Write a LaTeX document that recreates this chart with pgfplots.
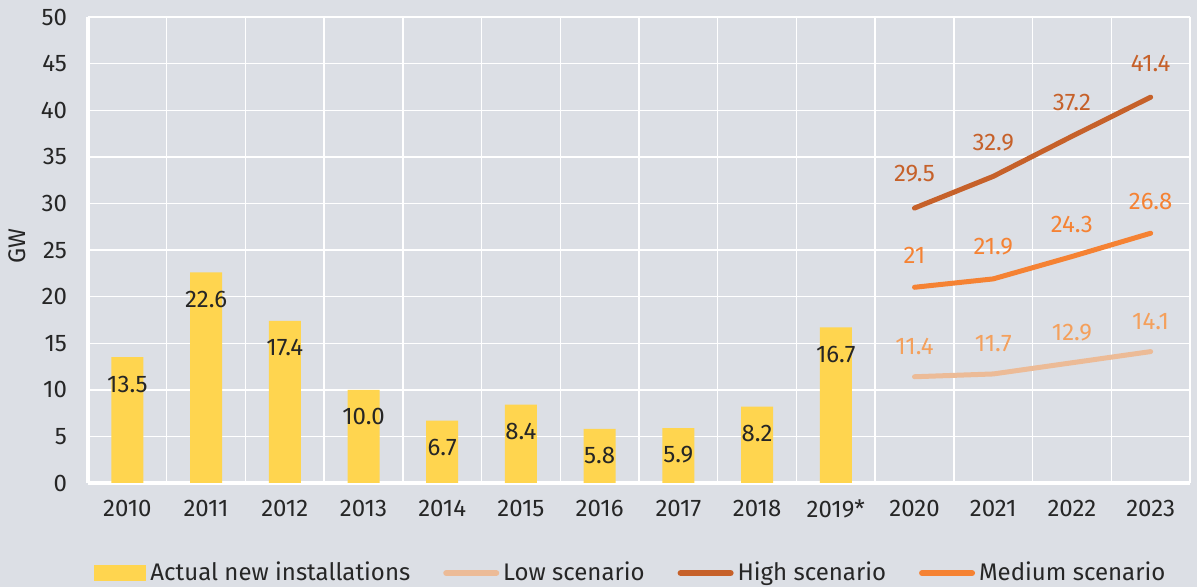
\documentclass[border=0pt]{standalone}
\usepackage{fontspec}
\setmainfont{Fira Sans}
\usepackage{pgfplots}
\pgfplotsset{compat=1.18}
\definecolor{bg}{HTML}{DCDFE5}
\definecolor{bar}{HTML}{FFD54F}
\definecolor{high}{HTML}{C6612A}
\definecolor{med}{HTML}{F58233}
\definecolor{low}{HTML}{ECBB97}
\definecolor{lowtxt}{HTML}{F4A05C}
\definecolor{txt}{HTML}{262626}
\newcommand\f{\fontsize{12}{14.4}\selectfont}
\pgfkeys{/pgf/number format/assume math mode=true}

\begin{document}
\begin{tikzpicture}
\fill[bg] (-44pt,-52pt) rectangle (554.5pt,241.5pt);
\begin{axis}[name=ax, scale only axis, width=551pt, height=233pt,
  xmin=-0.5, xmax=13.5, ymin=0, ymax=50,
  xtick={0,...,13},
  xticklabels={2010,2011,2012,2013,2014,2015,2016,2017,2018,2019*,2020,2021,2022,2023},
  minor xtick={-0.5,0.5,...,13.5},
  ytick={0,5,...,50},
  xminorgrids, ymajorgrids,
  grid style={white, line width=0.7pt},
  minor grid style={white, line width=0.7pt},
  axis x line*=bottom, axis y line*=left,
  axis line style={white, line width=1.6pt},
  major tick length=0pt, minor tick length=0pt,
  tick label style={font=\f, text=txt},
  xticklabel style={yshift=-5pt},
  yticklabel style={xshift=-7pt},
  legend columns=4,
  legend style={at={(0.0,-0.152)}, anchor=north west, draw=none, fill=none, font=\f, text=txt,
    /tikz/every even column/.append style={column sep=14.5pt}},
  legend cell align=left,
]
\addplot[ybar, bar width=16pt, fill=bar, draw=none,
  nodes near coords, point meta=y,
  nodes near coords style={font=\f, text=txt, anchor=center, yshift=-13.5pt,
    /pgf/number format/.cd, fixed, fixed zerofill, precision=1},
  legend image code/.code={\fill[bar] (0pt,-4pt) rectangle (26pt,4pt);}]
  coordinates {(0,13.5) (1,22.6) (2,17.4) (3,10.0) (4,6.7) (5,8.4) (6,5.8) (7,5.9) (8,8.2) (9,16.7)};
\addlegendentry{Actual new installations}
\addplot[low, line width=2.5pt, line cap=round, line join=round,
  nodes near coords, point meta=y,
  nodes near coords style={font=\f, text=lowtxt, anchor=center, yshift=15pt},
  legend image code/.code={\draw[low, line width=3pt, line cap=round] (1.5pt,0pt) -- (26.5pt,0pt);}]
  coordinates {(10,11.4) (11,11.7) (12,12.9) (13,14.1)};
\addlegendentry{Low scenario}
\addplot[high, line width=2.5pt, line cap=round, line join=round,
  nodes near coords, point meta=y,
  nodes near coords style={font=\f, text=high, anchor=center, yshift=17pt},
  legend image code/.code={\draw[high, line width=3pt, line cap=round] (1.5pt,0pt) -- (26.5pt,0pt);}]
  coordinates {(10,29.5) (11,32.9) (12,37.2) (13,41.4)};
\addlegendentry{High scenario}
\addplot[med, line width=2.5pt, line cap=round, line join=round,
  nodes near coords, point meta=y,
  nodes near coords style={font=\f, text=med, anchor=center, yshift=16pt},
  legend image code/.code={\draw[med, line width=3pt, line cap=round] (1.5pt,0pt) -- (26.5pt,0pt);}]
  coordinates {(10,21) (11,21.9) (12,24.3) (13,26.8)};
\addlegendentry{Medium scenario}
\end{axis}
\node[rotate=90, font=\f, text=txt] at ([xshift=-35.5pt, yshift=2pt]ax.west) {GW};
\pgfresetboundingbox
\path[use as bounding box] (-44pt,-52pt) rectangle (554.5pt,241.5pt);
\end{tikzpicture}
\end{document}
